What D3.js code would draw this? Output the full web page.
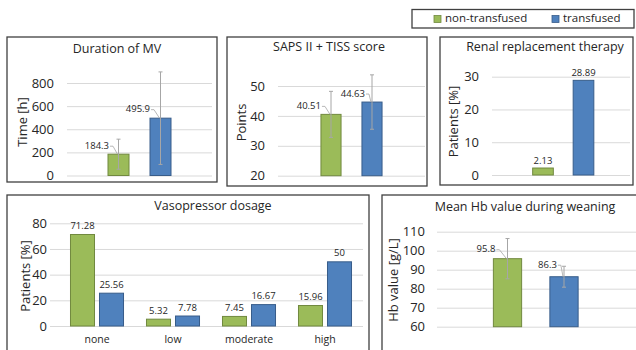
<!DOCTYPE html>
<html>
<head>
<meta charset="utf-8">
<script src="https://cdn.jsdelivr.net/npm/d3@7"></script>
<style>
  body { margin: 0; background: #fff; }
  svg { font-family: "Open Sans", sans-serif; }
</style>
</head>
<body>
<div id="chart"></div>
<script>
// series + colours
const series = ["non-transfused", "transfused"];
const seriesColors = ["#9BBB59", "#4F81BD"];
const seriesStrokes = ["#71893F", "#385D8A"];

// Duration of MV
const mvValues = [184.3, 495.9];
const mvErrors = [130, 400];
const mvTicks = [0, 200, 400, 600, 800];

// SAPS II + TISS
const sapsValues = [40.51, 44.63];
const sapsErrors = [7.7, 9.1];
const sapsTicks = [20, 30, 40, 50];

// Renal replacement therapy
const rrtValues = [2.13, 28.89];
const rrtTicks = [0, 10, 20, 30];

// Vasopressor dosage
const vasoCategories = ["none", "low", "moderate", "high"];
const vasoNonTransfused = [71.28, 5.32, 7.45, 15.96];
const vasoTransfused = [25.56, 7.78, 16.67, 50];
const vasoTicks = [0, 20, 40, 60, 80];

// Mean Hb during weaning
const hbValues = [95.8, 86.3];
const hbErrors = [10.6, 5.5];
const hbTicks = [60, 70, 80, 90, 100, 110];

const width = 636, height = 350;
const svg = d3.select("#chart").append("svg")
    .attr("width", width)
    .attr("height", height);

const frameColor = "#404040";
const gridColor = "#D9D9D9";
const errColor = "#A6A6A6";
const textColor = "#262626";

function drawFrame(box, title, titlePos) {
    svg.append("rect")
        .attr("x", box.x).attr("y", box.y)
        .attr("width", box.w).attr("height", box.h)
        .attr("fill", "#fff")
        .attr("stroke", frameColor)
        .attr("stroke-width", 1.3);
    svg.append("text")
        .attr("x", titlePos[0]).attr("y", titlePos[1])
        .attr("text-anchor", "middle")
        .attr("dominant-baseline", "middle")
        .style("font-size", "12.5px")
        .style("fill", textColor)
        .text(title);
}

function drawYAxis(y, ticks, gridLeft, gridRight, pad) {
    const g = svg.append("g")
        .attr("transform", `translate(${gridLeft},0)`)
        .call(d3.axisLeft(y)
            .tickValues(ticks)
            .tickSize(-(gridRight - gridLeft))
            .tickPadding(pad));
    g.select(".domain").remove();
    g.selectAll(".tick line").attr("stroke", gridColor);
    g.selectAll(".tick text")
        .style("font-size", "13px")
        .style("font-family", "'Open Sans', sans-serif")
        .attr("fill", textColor);
}

function drawYTitle(label, x, yc) {
    svg.append("text")
        .attr("transform", `translate(${x},${yc}) rotate(-90)`)
        .attr("text-anchor", "middle")
        .attr("dominant-baseline", "middle")
        .style("font-size", "13px")
        .style("fill", textColor)
        .text(label);
}

// simple two-bar panel (one bar per series)
function drawTwoBarPanel(cfg) {
    drawFrame(cfg.box, cfg.title, cfg.titlePos);

    const y = d3.scaleLinear().domain(cfg.yDomain).range(cfg.yRange);
    drawYAxis(y, cfg.ticks, cfg.gridLeft, cfg.gridRight, cfg.pad);
    drawYTitle(cfg.yTitle, cfg.yTitlePos[0], cfg.yTitlePos[1]);

    const x = d3.scaleBand()
        .domain(series)
        .range(cfg.barRange)
        .paddingInner(cfg.padding)
        .paddingOuter(cfg.padding / 2);

    const base = y(cfg.yDomain[0]);
    const data = series.map((s, i) => ({
        s, i, v: cfg.values[i], e: cfg.errors ? cfg.errors[i] : null
    }));

    svg.selectAll(null).data(data).join("rect")
        .attr("x", d => x(d.s))
        .attr("y", d => y(d.v))
        .attr("width", x.bandwidth())
        .attr("height", d => base - y(d.v))
        .attr("fill", d => seriesColors[d.i])
        .attr("stroke", d => seriesStrokes[d.i])
        .attr("stroke-width", 1);

    if (cfg.errors) {
        const eg = svg.append("g").attr("stroke", errColor).attr("stroke-width", 1);
        data.forEach(d => {
            const cx = x(d.s) + x.bandwidth() / 2;
            const y1 = y(d.v + d.e), y2 = y(d.v - d.e);
            eg.append("line").attr("x1", cx).attr("x2", cx).attr("y1", y1).attr("y2", y2);
            eg.append("line").attr("x1", cx - 2).attr("x2", cx + 2).attr("y1", y1).attr("y2", y1);
            eg.append("line").attr("x1", cx - 2).attr("x2", cx + 2).attr("y1", y2).attr("y2", y2);
        });
    }

    if (cfg.labelMode === "left") {
        // labels left of the bar top with leader line
        data.forEach(d => {
            const bx = x(d.s), cx = bx + x.bandwidth() / 2, top = y(d.v);
            const tx = bx + cfg.labelDx[d.i], ty = top - cfg.labelDy[d.i];
            svg.append("text")
                .attr("x", tx).attr("y", ty)
                .attr("text-anchor", "end")
                .attr("dominant-baseline", "middle")
                .style("font-size", "9.5px")
                .style("fill", textColor)
                .text(d.v);
            svg.append("polyline")
                .attr("points", `${tx + 1},${ty} ${tx + 4},${ty} ${cx - 1},${top}`)
                .attr("fill", "none")
                .attr("stroke", errColor)
                .attr("stroke-width", 0.8);
        });
    } else {
        svg.selectAll(null).data(data).join("text")
            .attr("x", d => x(d.s) + x.bandwidth() / 2)
            .attr("y", d => y(d.v) - 7)
            .attr("text-anchor", "middle")
            .attr("dominant-baseline", "middle")
            .style("font-size", "9.5px")
            .style("fill", textColor)
            .text(d => d.v);
    }
}

// Legend
svg.append("rect")
    .attr("x", 412).attr("y", 9.5).attr("width", 222).attr("height", 18.5)
    .attr("fill", "#fff").attr("stroke", frameColor).attr("stroke-width", 1.3);
const legendX = [434, 552];
series.forEach((s, i) => {
    svg.append("rect")
        .attr("x", legendX[i]).attr("y", 15.5).attr("width", 7).attr("height", 7)
        .attr("fill", seriesColors[i]).attr("stroke", seriesStrokes[i]).attr("stroke-width", 0.8);
    svg.append("text")
        .attr("x", legendX[i] + 11).attr("y", 19)
        .attr("dominant-baseline", "middle")
        .style("font-size", "11.5px")
        .style("fill", textColor)
        .text(s);
});

drawTwoBarPanel({
    box: { x: 7, y: 37, w: 210, h: 145 },
    title: "Duration of MV", titlePos: [117, 50],
    yDomain: [0, 800], yRange: [175.5, 83], ticks: mvTicks,
    gridLeft: 67, gridRight: 212, pad: 13,
    yTitle: "Time [h]", yTitlePos: [23.5, 122],
    barRange: [97.5, 181.5], padding: 0.5,
    values: mvValues, errors: mvErrors,
    labelMode: "left", labelDx: [1, 0], labelDy: [8, 8.5]
});

drawTwoBarPanel({
    box: { x: 227, y: 37, w: 200, h: 149 },
    title: "SAPS II + TISS score", titlePos: [329, 48],
    yDomain: [20, 50], yRange: [175.7, 86], ticks: sapsTicks,
    gridLeft: 278, gridRight: 425, pad: 13,
    yTitle: "Points", yTitlePos: [243, 122.5],
    barRange: [310.5, 392.5], padding: 0.51,
    values: sapsValues, errors: sapsErrors,
    labelMode: "left", labelDx: [0, 3], labelDy: [8, 8]
});

drawTwoBarPanel({
    box: { x: 440, y: 37, w: 193, h: 148 },
    title: "Renal replacement therapy", titlePos: [545, 48],
    yDomain: [0, 30], yRange: [175, 76.7], ticks: rrtTicks,
    gridLeft: 492, gridRight: 630, pad: 13,
    yTitle: "Patients [%]", yTitlePos: [455, 121.5],
    barRange: [522.75, 603.75], padding: 0.49,
    values: rrtValues, errors: null,
    labelMode: "top"
});

drawTwoBarPanel({
    box: { x: 382, y: 195, w: 260, h: 170 },
    title: "Mean Hb value during weaning", titlePos: [525, 208],
    yDomain: [60, 110], yRange: [326.7, 231.7], ticks: hbTicks,
    gridLeft: 437, gridRight: 636, pad: 12,
    yTitle: "Hb value [g/L]", yTitlePos: [395, 280],
    barRange: [479.25, 592.25], padding: 0.5,
    values: hbValues, errors: hbErrors,
    labelMode: "left", labelDx: [2, 7], labelDy: [9, 11.5]
});

// Vasopressor dosage (grouped bars)
(function () {
    drawFrame({ x: 7, y: 195, w: 362, h: 170 }, "Vasopressor dosage", [213, 207]);
    const y = d3.scaleLinear().domain([0, 80]).range([326, 223.3]);
    drawYAxis(y, vasoTicks, 50, 363, 3);
    drawYTitle("Patients [%]", 27, 276);

    const x0 = d3.scaleBand().domain(vasoCategories).range([59, 363]);
    const x1 = d3.scaleBand().domain(series).range([0, x0.bandwidth()])
        .paddingInner(0.172).paddingOuter(0.396);

    const rows = vasoCategories.map((c, k) => ({
        c, vals: [vasoNonTransfused[k], vasoTransfused[k]]
    }));

    const groups = svg.selectAll(null).data(rows).join("g")
        .attr("transform", d => `translate(${x0(d.c)},0)`);

    groups.selectAll("rect")
        .data(d => d.vals.map((v, i) => ({ v, i, s: series[i] })))
        .join("rect")
        .attr("x", d => x1(d.s))
        .attr("y", d => y(d.v))
        .attr("width", x1.bandwidth())
        .attr("height", d => y(0) - y(d.v))
        .attr("fill", d => seriesColors[d.i])
        .attr("stroke", d => seriesStrokes[d.i])
        .attr("stroke-width", 1);

    groups.selectAll("text")
        .data(d => d.vals.map((v, i) => ({ v, i, s: series[i] })))
        .join("text")
        .attr("x", d => x1(d.s) + x1.bandwidth() / 2)
        .attr("y", d => y(d.v) - 8)
        .attr("text-anchor", "middle")
        .attr("dominant-baseline", "middle")
        .style("font-size", "9.5px")
        .style("fill", textColor)
        .text(d => d.v);

    const xa = svg.append("g")
        .attr("transform", `translate(0,${y(0)})`)
        .call(d3.axisBottom(x0).tickSize(0).tickPadding(10));
    xa.select(".domain").remove();
    xa.selectAll(".tick text")
        .style("font-size", "10.5px")
        .style("font-family", "'Open Sans', sans-serif")
        .attr("fill", textColor);
})();
</script>
</body>
</html>
